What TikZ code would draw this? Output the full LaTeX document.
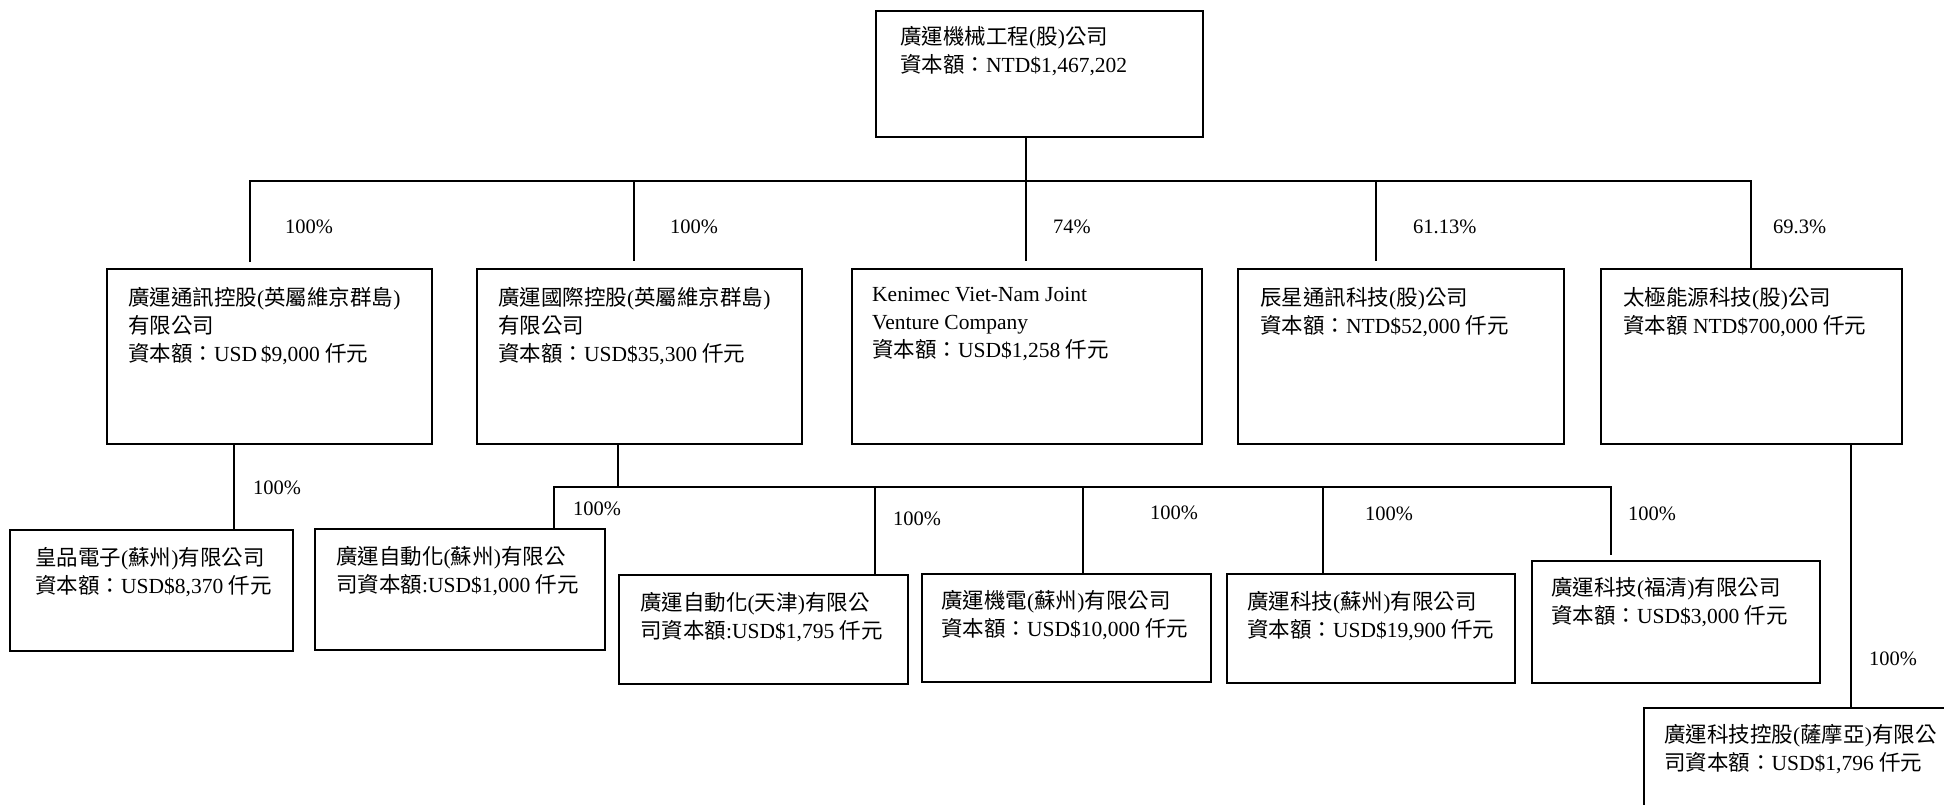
\documentclass[tikz,border=0pt]{standalone}
\usepackage{fontspec}
\setmainfont{Liberation Serif}
\newfontfamily\cjkfont{Noto Sans CJK TC}
\newcommand\zh[1]{{\cjkfont #1}}

\tikzset{
	wire/.style={line width=2pt},
	firm/.style={draw,line width=2pt,anchor=north west,inner sep=0pt},
	firmtxt/.style={anchor=north west,align=left,inner sep=0pt,font=\fontsize{21.5}{28}\selectfont},
	pct/.style={anchor=west,inner sep=0pt,font=\fontsize{20.5}{24}\selectfont}
}

\begin{document}
\begin{tikzpicture}[x=1pt,y=-1pt]
	\useasboundingbox (0,0) rectangle (1944,804);
	\clip (0,0) rectangle (1944,804);
	
	% boxes
	\foreach \n/\x/\y/\w/\h in {top/875/10/327/126,
		A/106/268/325/175,B/476/268/325/175,C/851/268/350/175,D/1237/268/326/175,E/1600/268/301/175,
		F/9/529/283/121,G/314/528/290/121,H/618/574/289/109,I/921/573/289/108,
		J/1226/573/288/109,K/1531/560/288/122,L/1643/707/400/150}
		\node[firm,minimum width=\w,minimum height=\h] (\n) at (\x,\y) {};
	
	\node[firmtxt] (top-t) at ([shift={(25,16)}]top.north west)
		{\zh{廣運機械工程}(\zh{股})\zh{公司}\\\zh{資本額：}NTD\$1,467,202};
	\node[firmtxt] (A-t) at ([shift={(22,19)}]A.north west)
		{\zh{廣運通訊控股}(\zh{英屬維京群島})\\\zh{有限公司}\\\zh{資本額：}USD\,\$9,000 \zh{仟元}};
	\node[firmtxt] (B-t) at ([shift={(22,19)}]B.north west)
		{\zh{廣運國際控股}(\zh{英屬維京群島})\\\zh{有限公司}\\\zh{資本額：}USD\$35,300 \zh{仟元}};
	\node[firmtxt] (C-t) at ([shift={(21,19)}]C.north west)
		{Kenimec Viet-Nam Joint\\Venture Company\\\zh{資本額：}USD\$1,258 \zh{仟元}};
	\node[firmtxt] (D-t) at ([shift={(23,19)}]D.north west)
		{\zh{辰星通訊科技}(\zh{股})\zh{公司}\\\zh{資本額：}NTD\$52,000 \zh{仟元}};
	\node[firmtxt] (E-t) at ([shift={(23,19)}]E.north west)
		{\zh{太極能源科技}(\zh{股})\zh{公司}\\\zh{資本額} NTD\$700,000 \zh{仟元}};
	\node[firmtxt] (F-t) at ([shift={(26,18)}]F.north west)
		{\zh{皇品電子}(\zh{蘇州})\zh{有限公司}\\\zh{資本額：}USD\$8,370 \zh{仟元}};
	\node[firmtxt] (G-t) at ([shift={(22,18)}]G.north west)
		{\zh{廣運自動化}(\zh{蘇州})\zh{有限公}\\\zh{司資本額}:USD\$1,000 \zh{仟元}};
	\node[firmtxt] (H-t) at ([shift={(22,18)}]H.north west)
		{\zh{廣運自動化}(\zh{天津})\zh{有限公}\\\zh{司資本額}:USD\$1,795 \zh{仟元}};
	\node[firmtxt] (I-t) at ([shift={(20,17)}]I.north west)
		{\zh{廣運機電}(\zh{蘇州})\zh{有限公司}\\\zh{資本額：}USD\$10,000 \zh{仟元}};
	\node[firmtxt] (J-t) at ([shift={(21,18)}]J.north west)
		{\zh{廣運科技}(\zh{蘇州})\zh{有限公司}\\\zh{資本額：}USD\$19,900 \zh{仟元}};
	\node[firmtxt] (K-t) at ([shift={(20,17)}]K.north west)
		{\zh{廣運科技}(\zh{福清})\zh{有限公司}\\\zh{資本額：}USD\$3,000 \zh{仟元}};
	\node[firmtxt] (L-t) at ([shift={(21,17)}]L.north west)
		{\zh{廣運科技控股}(\zh{薩摩亞})\zh{有限公}\\\zh{司資本額：}USD\$1,796 \zh{仟元}};
	
	% shares
	\foreach \n/\x/\y/\v in {p1/285/227/100,p2/670/227/100,p3/1053/227/74,p4/1413/227/61.13,p5/1773/227/69.3,
		p6/253/488/100,p7/573/509/100,p8/893/519/100,p9/1150/513/100,p10/1365/514/100,
		p11/1628/514/100,p12/1869/659/100}
		\node[pct] (\n) at (\x,\y) {\v\%};
	
	% first level
	\foreach \n/\x in {1/250,2/634,3/1026,4/1376,5/1751}
		\coordinate (j\n) at (\x,181);
	\draw[wire] (top.south -| j3) -- (j3);
	\draw[wire,shorten <=6pt] (j1 |- A.north) -- (j1) -- (j5) -- (j5 |- E.north);
	\foreach \n/\b in {2/B,3/C,4/D}
		\draw[wire,shorten >=7pt] (j\n) -- (j\n |- \b.north);
	
	% second level
	\coordinate (kF) at (234,0);
	\draw[wire] (A.south -| kF) -- (kF |- F.north);
	\foreach \n/\x in {b/618,g/554,h/875,i/1083,j/1323,k/1611}
		\coordinate (s\n) at (\x,487);
	\draw[wire] (B.south -| sb) -- (sb);
	\draw[wire,shorten >=5pt] (sg |- G.north) -- (sg) -- (sk) -- (sk |- K.north);
	\foreach \n/\b in {h/H,i/I,j/J}
		\draw[wire] (s\n) -- (s\n |- \b.north);
	\coordinate (kL) at (1851,0);
	\draw[wire] (E.south -| kL) -- (kL |- L.north);
\end{tikzpicture}
\end{document}
